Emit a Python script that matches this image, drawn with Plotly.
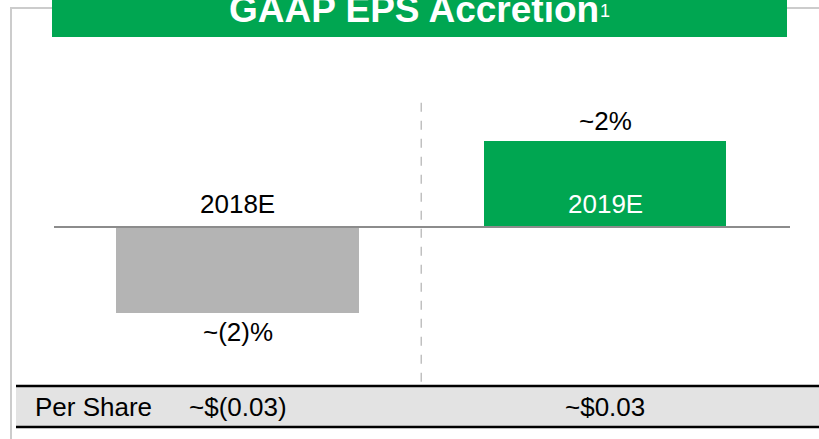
import plotly.graph_objects as go

# ---- data ----
categories = ["2018E", "2019E"]
accretion_pct = [-2, 2]
value_labels = ["~(2)%", "~2%"]
per_share_labels = ["~$(0.03)", "~$0.03"]
row_label = "Per Share"
bar_colors = ["#b4b4b4", "#00a651"]
category_label_colors = ["#000000", "#ffffff"]
title_text = "GAAP EPS Accretion"
title_footnote = "1"

W, H = 819, 439
FONT = "Liberation Sans, Arial, sans-serif"
TXT = 26


def px_x(p):
    return p / W


def px_y(p):
    return 1 - p / H


fig = go.Figure()
fig.add_trace(go.Bar(
    x=categories,
    y=accretion_pct,
    marker=dict(color=bar_colors, line=dict(width=0)),
    width=0.661,
    hoverinfo="skip",
))

shapes = []
# light frame lines (left + top)
shapes.append(dict(type="line", xref="paper", yref="paper", x0=px_x(11), x1=px_x(11),
                   y0=px_y(8), y1=0, line=dict(color="#cccccc", width=2), layer="below"))
shapes.append(dict(type="line", xref="paper", yref="paper", x0=px_x(10), x1=1,
                   y0=px_y(8), y1=px_y(8), line=dict(color="#cccccc", width=2), layer="below"))
# green header band
shapes.append(dict(type="rect", xref="paper", yref="paper", x0=px_x(52), x1=px_x(787),
                   y0=px_y(37), y1=1.05, fillcolor="#00a651", line=dict(width=0), layer="above"))
# dashed separator between categories
shapes.append(dict(type="line", xref="x", yref="y", x0=0.5, x1=0.5, y0=-3.6, y1=2.93,
                   line=dict(color="#c0c0c0", width=1.5, dash="dash"), layer="below"))
# zero baseline
shapes.append(dict(type="line", xref="paper", yref="y", x0=px_x(54), x1=px_x(790),
                   y0=0, y1=0, line=dict(color="#8c8c8c", width=2), layer="above"))
# per-share table band
shapes.append(dict(type="rect", xref="paper", yref="paper", x0=px_x(16), x1=1,
                   y0=px_y(427), y1=px_y(386), fillcolor="#e3e3e3", line=dict(width=0), layer="below"))
for yy in (386, 427):
    shapes.append(dict(type="line", xref="paper", yref="paper", x0=px_x(16), x1=1,
                       y0=px_y(yy), y1=px_y(yy), line=dict(color="#000000", width=2.5), layer="above"))

annotations = []
annotations.append(dict(
    text=f"<b>{title_text}</b>",
    xref="paper", yref="paper",
    x=px_x(414), y=px_y(10), xanchor="center", yanchor="middle",
    showarrow=False, font=dict(family=FONT, size=37, color="#ffffff")))
annotations.append(dict(
    text=title_footnote, xref="paper", yref="paper",
    x=px_x(598), y=px_y(11), xanchor="left", yanchor="middle",
    showarrow=False, font=dict(family=FONT, size=18, color="#ffffff")))
for i, (cat, v, lab) in enumerate(zip(categories, accretion_pct, value_labels)):
    # value label beyond the bar end
    annotations.append(dict(text=lab, x=i, y=v, xref="x", yref="y",
                            xanchor="center", yanchor="middle",
                            yshift=20 if v >= 0 else -19, showarrow=False,
                            font=dict(family=FONT, size=TXT, color="#000000")))
    # category label just above the zero line
    annotations.append(dict(text=cat, x=i, y=0, xref="x", yref="y",
                            xanchor="center", yanchor="middle", yshift=23, showarrow=False,
                            font=dict(family=FONT, size=TXT, color=category_label_colors[i])))
    annotations.append(dict(text=per_share_labels[i], x=i, y=px_y(407), xref="x", yref="paper",
                            xanchor="center", yanchor="middle", showarrow=False,
                            font=dict(family=FONT, size=TXT, color="#000000")))
annotations.append(dict(text=row_label, x=px_x(33), y=px_y(407), xref="paper", yref="paper",
                        xanchor="left", yanchor="middle", showarrow=False,
                        font=dict(family=FONT, size=TXT, color="#000000")))

fig.update_layout(
    width=W, height=H,
    margin=dict(l=0, r=0, t=0, b=0),
    paper_bgcolor="#ffffff", plot_bgcolor="#ffffff",
    showlegend=False,
    xaxis=dict(range=[-0.6463, 1.5823], visible=False, fixedrange=True),
    yaxis=dict(range=[-4.930, 5.279], visible=False, fixedrange=True, zeroline=False),
    shapes=shapes,
    annotations=annotations,
    bargap=0,
)

fig.write_html("out.html", config={"displayModeBar": False},
               post_script="document.body.style.margin='0';document.body.style.overflow='hidden';")
